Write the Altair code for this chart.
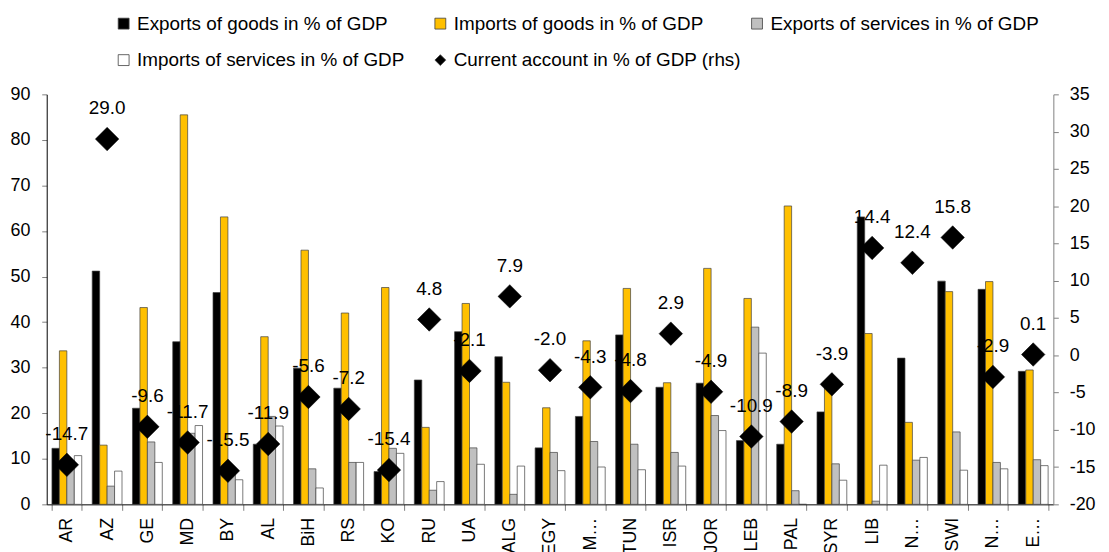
import altair as alt
import pandas as pd

labels = ["AR", "AZ", "GE", "MD", "BY", "AL", "BiH", "RS", "KO", "RU", "UA", "ALG", "EGY",
          "M…", "TUN", "ISR", "JOR", "LEB", "PAL", "SYR", "LIB", "N…", "SWI", "N…", "E…"]

exp_goods = [12.3, 51.2, 21.1, 35.7, 46.5, 13.2, 29.9, 25.5, 7.2, 27.3, 37.9, 32.4, 12.4,
             19.3, 37.2, 25.7, 26.6, 14.0, 13.2, 20.3, 63.1, 32.1, 49.0, 47.2, 29.2]
imp_goods = [33.7, 13.0, 43.2, 85.5, 63.1, 36.8, 55.8, 42.0, 47.6, 16.9, 44.1, 26.8, 21.2,
             35.9, 47.4, 26.7, 51.8, 45.2, 65.5, 25.6, 37.5, 18.0, 46.7, 48.9, 29.5]
exp_serv = [9.0, 4.0, 13.7, 15.6, 8.1, 19.3, 7.8, 9.2, 12.3, 3.1, 12.4, 2.2, 11.4,
            13.8, 13.2, 11.4, 19.5, 38.9, 3.0, 8.9, 0.7, 9.7, 15.9, 9.2, 9.8]
imp_serv = [10.7, 7.3, 9.2, 17.3, 5.4, 17.2, 3.6, 9.2, 11.2, 5.0, 8.8, 8.4, 7.4,
            8.2, 7.6, 8.4, 16.2, 33.2, 0.0, 5.3, 8.6, 10.3, 7.5, 7.8, 8.5]
current_account = [-14.7, 29.0, -9.6, -11.7, -15.5, -11.9, -5.6, -7.2, -15.4, 4.8, -2.1, 7.9, -2.0,
                   -4.3, -4.8, 2.9, -4.9, -10.9, -8.9, -3.9, 14.4, 12.4, 15.8, -2.9, 0.1]

series_names = ["Exports of goods in % of GDP", "Imports of goods in % of GDP",
                "Exports of services in % of GDP", "Imports of services in % of GDP",
                "Current account in % of GDP (rhs)"]
series_colors = ["#000000", "#FFC000", "#C0C0C0", "#FFFFFF", "#000000"]
series_shapes = ["square", "square", "square", "square", "diamond"]

keys = [f"{i:02d}|{lab}" for i, lab in enumerate(labels)]

bar_rows = []
for k, a, b, c, d in zip(keys, exp_goods, imp_goods, exp_serv, imp_serv):
    for name, v in zip(series_names[:4], (a, b, c, d)):
        bar_rows.append({"key": k, "series": name, "value": v})
bars_df = pd.DataFrame(bar_rows)

ca_df = pd.DataFrame({"key": keys, "ca": current_account,
                      "label": [f"{v:.1f}" for v in current_account],
                      "series": series_names[4]})

FONT = "Liberation Sans"
HYPHEN_EXPR = "datum.value < 0 ? '-' + abs(datum.value) : '' + datum.value"

x_enc = alt.X("key:N", sort=keys, title=None,
              scale=alt.Scale(paddingInner=0.26, paddingOuter=0.13),
              axis=alt.Axis(labelExpr="split(datum.value, '|')[1]", labelAngle=-90,
                            labelFontSize=18, labelColor="#000000", labelPadding=7,
                            tickBand="extent", tickColor="#808080", tickSize=6,
                            domainColor="#000000", labelFont=FONT))

color_enc = alt.Color("series:N", title=None,
                      scale=alt.Scale(domain=series_names, range=series_colors),
                      legend=alt.Legend(orient="none", legendX=68, legendY=-81,
                                        columns=3, direction="horizontal",
                                        labelFontSize=19, labelFont=FONT,
                                        labelColor="#000000",
                                        symbolSize=120, symbolStrokeColor="#404040",
                                        symbolStrokeWidth=0.8, columnPadding=6,
                                        rowPadding=17, labelOffset=4,
                                        gridAlign="all", labelLimit=400))

shape_enc = alt.Shape("series:N", title=None,
                      scale=alt.Scale(domain=series_names, range=series_shapes),
                      legend=None)

bars = alt.Chart(bars_df).mark_bar(stroke="#404040", strokeWidth=0.7).encode(
    x=x_enc,
    xOffset=alt.XOffset("series:N", sort=series_names[:4],
                        scale=alt.Scale(paddingInner=0, paddingOuter=0)),
    y=alt.Y("value:Q", title=None,
            scale=alt.Scale(domain=[0, 90], nice=False),
            axis=alt.Axis(orient="left", values=list(range(0, 91, 10)), grid=False,
                          labelFontSize=18, labelFont=FONT, labelColor="#000000",
                          domainColor="#000000", tickColor="#808080", tickSize=5,
                          labelPadding=12)),
    color=color_enc,
)

points = alt.Chart(ca_df).mark_point(filled=True, size=560, opacity=1,
                                     stroke="#000000", strokeWidth=0.5).encode(
    x=alt.X("key:N", sort=keys),
    y=alt.Y("ca:Q", title=None,
            scale=alt.Scale(domain=[-20, 35], nice=False),
            axis=alt.Axis(orient="right", values=list(range(-20, 36, 5)), grid=False,
                          labelExpr=HYPHEN_EXPR,
                          labelFontSize=18, labelFont=FONT, labelColor="#000000",
                          domainColor="#808080", tickColor="#808080", tickSize=5,
                          labelPadding=11)),
    color=color_enc,
    shape=shape_enc,
)

texts = alt.Chart(ca_df).mark_text(fontSize=19, font=FONT, color="#000000",
                                   dy=-31).encode(
    x=alt.X("key:N", sort=keys),
    y=alt.Y("ca:Q", scale=alt.Scale(domain=[-20, 35], nice=False), axis=None),
    text=alt.Text("label:N"),
)

chart = alt.layer(bars, points, texts).resolve_scale(y="independent").properties(
    width=1014, height=413,
    autosize=alt.AutoSizeParams(type="none"),
    padding={"left": 39, "top": 85, "right": 48, "bottom": 46},
    background="#FFFFFF",
).configure_view(stroke=None)

chart.save("out.html", embed_options={"renderer": "svg", "actions": False})
